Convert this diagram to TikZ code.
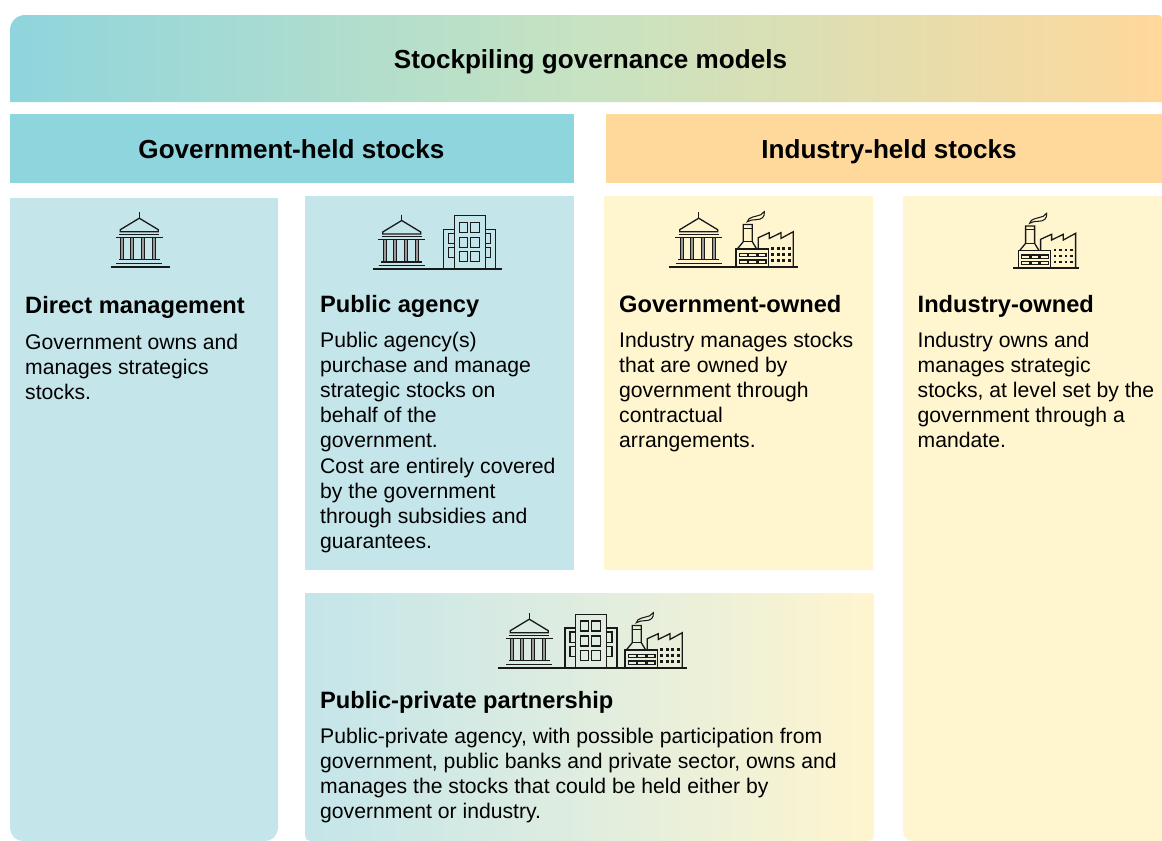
\documentclass[tikz,border=0pt]{standalone}
\usepackage{fontspec}
\setmainfont{Liberation Sans}
\definecolor{tealA}{HTML}{8FD5DD}
\definecolor{orangeA}{HTML}{FFD89B}
\definecolor{tealB}{HTML}{C4E5EA}
\definecolor{yellowB}{HTML}{FFF5CF}
\definecolor{greenM}{HTML}{C7E3C2}
\definecolor{pppM}{HTML}{E0EDDF}
\tikzset{
  x=1bp,y=-1bp,
  hdr/.style={font=\bfseries\fontsize{26.2}{30}\selectfont,text=black,inner sep=0pt,anchor=base},
  ptitle/.style={font=\bfseries\fontsize{23.75}{27}\selectfont,anchor=base west,inner sep=0pt,text=black},
  pbody/.style={font=\fontsize{21.25}{25.2}\selectfont,anchor=north west,inner sep=0pt,align=left,text=black},
  ic/.style={line width=1.3bp,black!90},
  icn/.style={line width=1.05bp,black!90},
  pics/bankicon/.style={code={
    \draw[ic] (0,-54.5)--(0,-48.5);
    \draw[ic] (-19,-37)--(-19,-35)--(19,-35)--(19,-37)--(0,-48.5)--cycle;
    \draw[ic] (-20,-32.5)--(20,-32.5);
    \draw[ic] (-23.5,-29.5)--(23.5,-29.5);
    \foreach \c in {-17,-7,4,15}{\draw[icn,fill=black!40] (\c-1.6,-29.5) rectangle (\c+1.6,-7);}
    \draw[ic] (-20.5,-7)--(20.5,-7);
    \draw[ic] (-23,-3.5)--(23,-3.5);
  }},
  pics/officeicon/.style={code={
    \draw[ic] (-26,0)--(-26,-39.7)--(-15.5,-39.7);
    \draw[ic] (26,0)--(26,-39.7)--(15.5,-39.7);
    \draw[ic] (-15.5,0)--(-15.5,-53.3)--(15.5,-53.3)--(15.5,0);
    \foreach \a/\b in {-10.5/-2.1,0.9/9.5}{\foreach \p/\q in {46.7/36.7,31.7/21.7,17.3/7.3}{
      \draw[icn] (\a,-\p) rectangle (\b,-\q);}}
    \foreach \a/\b in {-21/-15.5,15.5/21}{\foreach \p/\q in {35.7/25.3,21.3/11.3}{
      \draw[icn] (\a,-\p) rectangle (\b,-\q);}}
  }},
  pics/factoryicon/.style={code={
    \draw[ic] (0,0) rectangle (32.3,-17.7);
    \draw[ic] (1.3,-17.7)--(7.3,-25)--(7.3,-42.3)--(16.3,-42.3)--(16.3,-25)--(20.7,-17.7);
    \draw[icn] (7.3,-38.5)--(16.3,-38.5);
    \draw[icn] (7.3,-25)--(16.3,-25);
    \draw[ic] (22.3,-18.3)--(22.3,-29)--(33.3,-34)--(33.3,-28.3)--(45,-34)--(45,-28.3)--(57.3,-35)--(57.3,0)--(32.3,0);
    \draw[icn] (11.3,-45) .. controls (12,-50) and (20,-50) .. (25,-52)
       .. controls (27,-54) and (28,-55) .. (28.3,-55)
       .. controls (29,-50) and (26,-47) .. (20,-47)
       .. controls (16,-47) and (13,-46) .. (11.3,-45) -- cycle;
    \foreach \a in {3.3,12.7,22}{\foreach \p in {13.3,6.7}{
      \draw[icn] (\a,-\p) rectangle (\a+8,-\p+3.3);}}
    \foreach \a in {36.7,42.2,47.7,53.2}{\foreach \p in {18.3,12.3,6.3}{
      \fill[black!90] (\a-1.3,-\p-1.3) rectangle (\a+1.3,-\p+1.3);}}
  }}
}
\begin{document}
\begin{tikzpicture}
\useasboundingbox (0,0) rectangle (1162,841);
% panels
\begin{scope}
  \clip (10,102) [rounded corners=15bp] -- (10,15) [rounded corners=4bp] -- (1162,15) [sharp corners] -- (1162,102) -- cycle;
  \shade[left color=tealA,right color=greenM] (10,15) rectangle (586.5,102);
  \shade[left color=greenM,right color=orangeA] (586,15) rectangle (1162,102);
\end{scope}
\node[hdr] (title) at (590.5,68.5) {Stockpiling governance models};
\fill[tealA] (10,114) rectangle (574,183);
\node[hdr] (gov) at (291.5,158) {Government-held stocks};
\fill[orangeA] (606,114) rectangle (1162,183);
\node[hdr] (ind) at (889,158) {Industry-held stocks};
\fill[tealB] (10,500) [rounded corners=13bp] -- (10,841) -- (278,841) -- (278,500) [sharp corners] -- (278,198) -- (10,198) -- cycle;
\fill[tealB] (305,196) rectangle (574,570);
\fill[yellowB] (604,196) rectangle (873,570);
\fill[yellowB] (903,500) [rounded corners=10bp] -- (903,841) [sharp corners] -- (1162,841) -- (1162,196) -- (903,196) -- cycle;
\begin{scope}
  \clip (305,700) [rounded corners=5bp] -- (305,841) -- (874,841) -- (874,700) [sharp corners] -- (874,593) -- (305,593) -- cycle;
  \shade[left color=tealB,right color=pppM] (305,593) rectangle (590,841);
  \shade[left color=pppM,right color=yellowB] (589.5,593) rectangle (874,841);
\end{scope}
% icons
\pic at (139.3,266.7) {bankicon};
\draw[ic,line width=1.8bp] (110.5,266.7)--(170,266.7);
\pic at (401.7,269) {bankicon};
\pic at (469.8,269) {officeicon};
\draw[ic,line width=1.8bp] (373,269)--(501.7,269);
\pic at (698.7,266.7) {bankicon};
\pic at (736,266.7) {factoryicon};
\draw[ic,line width=1.8bp] (669.3,266.7)--(797.7,266.7);
\pic at (1018.3,268.3) {factoryicon};
\draw[ic,line width=1.8bp] (1013.3,268.3)--(1079.3,268.3);
\pic at (529.3,667.7) {bankicon};
\pic at (591,667.7) {officeicon};
\pic at (625,667.7) {factoryicon};
\draw[ic,line width=1.8bp] (498.3,667.7)--(686.7,667.7);
% text
\node[ptitle] (t1) at (25,313) {Direct management};
\node[pbody] (b1) at (25,333.5) {Government owns and\\manages strategics\\stocks.};
\node[ptitle] (t2) at (320,312.5) {Public agency};
\node[pbody] (b2) at (320,332) {Public agency(s)\\purchase and manage\\strategic stocks on\\behalf of the\\government.\\Cost are entirely covered\\by the government\\through subsidies and\\guarantees.};
\node[ptitle] (t3) at (619,312.5) {Government-owned};
\node[pbody] (b3) at (619,332) {Industry manages stocks\\that are owned by\\government through\\contractual\\arrangements.};
\node[ptitle] (t4) at (917.5,312.5) {Industry-owned};
\node[pbody] (b4) at (917.5,332) {Industry owns and\\manages strategic\\stocks, at level set by the\\government through a\\mandate.};
\node[ptitle] (t5) at (320,708) {Public-private partnership};
\node[pbody] (b5) at (320,727.5) {Public-private agency, with possible participation from\\government, public banks and private sector, owns and\\manages the stocks that could be held either by\\government or industry.};
\end{tikzpicture}
\end{document}
